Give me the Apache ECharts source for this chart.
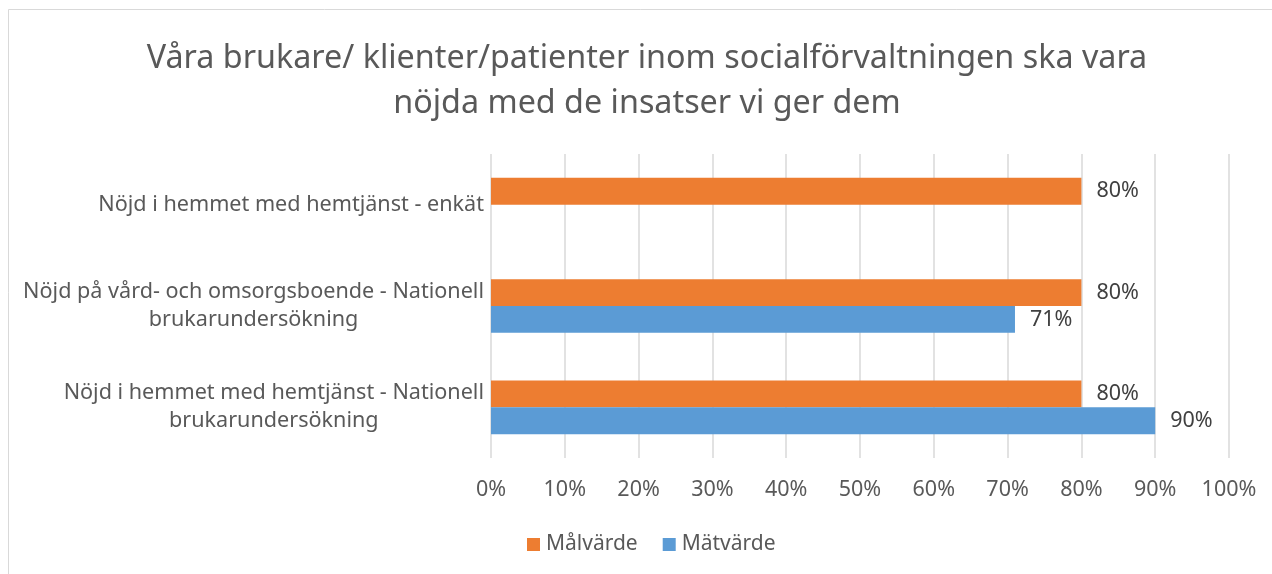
<!DOCTYPE html>
<html>
<head>
<meta charset="utf-8">
<script src="https://cdn.jsdelivr.net/npm/echarts@6/dist/echarts.min.js"></script>
<style>
html,body{margin:0;padding:0;background:#fff;}
#chart{width:1272px;height:574px;}
</style>
</head>
<body>
<div id="chart"></div>
<script>
const titleText = 'Våra brukare/ klienter/patienter inom socialförvaltningen ska vara\nnöjda med de insatser vi ger dem';
const categories = [
  'Nöjd i hemmet med hemtjänst - enkät',
  'Nöjd på vård- och omsorgsboende - Nationell\nbrukarundersökning',
  'Nöjd i hemmet med hemtjänst - Nationell\nbrukarundersökning'
];
const seriesNames = ['Målvärde', 'Mätvärde'];
const malvarde = [80, 80, 80];
const matvarde = [null, 71, 90];
const xTicks = {min: 0, max: 100, interval: 10};

const FONT = '"Noto Sans", "Open Sans", sans-serif';
const FS = 21.5;
const chart = echarts.init(document.getElementById('chart'), null, {renderer: 'canvas'});
chart.setOption({
  backgroundColor: '#ffffff',
  animation: false,
  textStyle: {fontFamily: FONT},
  graphic: [{
    type: 'rect', silent: true,
    shape: {x: 8.5, y: 9.5, width: 1400, height: 700},
    style: {fill: 'none', stroke: '#d9d9d9', lineWidth: 1}
  }],
  title: {
    text: titleText,
    left: 642, top: 31, textAlign: 'center',
    textStyle: {fontFamily: FONT, fontSize: 32.3, fontWeight: 'normal', color: '#595959', lineHeight: 45}
  },
  legend: {
    data: seriesNames,
    left: 527, top: 534, padding: 0,
    itemWidth: 13, itemHeight: 13, itemGap: 25,
    icon: 'rect',
    textStyle: {fontFamily: FONT, fontSize: 21, color: '#595959', padding: [0,0,0,1]}
  },
  grid: {left: 491, right: 43, top: 154, bottom: 116, containLabel: false},
  xAxis: {
    type: 'value', min: xTicks.min, max: xTicks.max, interval: xTicks.interval,
    axisLine: {show: false}, axisTick: {show: false},
    splitLine: {show: true, lineStyle: {color: '#d9d9d9', width: 1.5}},
    axisLabel: {formatter: '{value}%', fontFamily: FONT, fontSize: FS, color: '#595959', margin: 21}
  },
  yAxis: {
    type: 'category', data: categories, inverse: true,
    axisLine: {show: false}, axisTick: {show: false},
    axisLabel: {
      margin: 7, fontFamily: FONT, fontSize: 21.6, color: '#595959', lineHeight: 28,
      formatter: v => v.split('\n').map(l => '{c|' + l + '}').join('\n'),
      rich: {c: {align: 'center', fontFamily: FONT, fontSize: 21.6, color: '#595959', lineHeight: 28}}
    }
  },
  series: [
    {
      name: seriesNames[0], type: 'bar', data: malvarde,
      barGap: '0%', barCategoryGap: '47%',
      itemStyle: {color: '#ed7d31'},
      label: {show: true, position: 'right', distance: 15, formatter: '{c}%', fontFamily: FONT, fontSize: FS, color: '#404040'}
    },
    {
      name: seriesNames[1], type: 'bar', data: matvarde,
      barGap: '0%', barCategoryGap: '47%',
      itemStyle: {color: '#5b9bd5'},
      label: {show: true, position: 'right', distance: 15, formatter: '{c}%', fontFamily: FONT, fontSize: FS, color: '#404040'}
    }
  ]
});
</script>
</body>
</html>
